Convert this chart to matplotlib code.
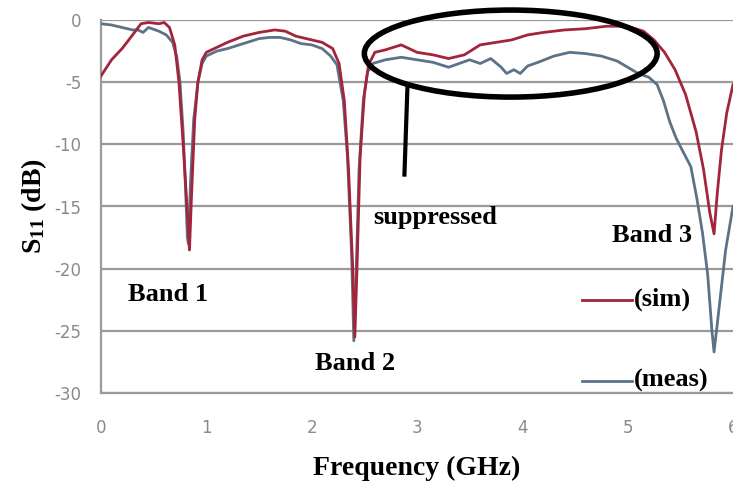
import matplotlib
matplotlib.use("Agg")
import matplotlib.pyplot as plt
from matplotlib.patches import Ellipse

plt.rcParams['mathtext.fontset'] = 'custom'
plt.rcParams['mathtext.rm'] = 'Liberation Serif:bold'
plt.rcParams['mathtext.it'] = 'Liberation Serif:bold'
plt.rcParams['mathtext.bf'] = 'Liberation Serif:bold'
plt.rcParams['axes.unicode_minus'] = False

# simulated S11 (red)
sim_freq = [0.00, 0.10, 0.20, 0.30, 0.38, 0.45, 0.55, 0.60, 0.65, 0.70, 0.74, 0.78,
            0.82, 0.84, 0.86, 0.89, 0.92, 0.96, 1.00, 1.10, 1.20, 1.35, 1.50, 1.65,
            1.75, 1.85, 2.00, 2.10, 2.20, 2.26, 2.31, 2.35, 2.39, 2.41, 2.43, 2.46,
            2.50, 2.54, 2.60, 2.70, 2.85, 3.00, 3.15, 3.30, 3.45, 3.60, 3.75, 3.90,
            4.05, 4.20, 4.40, 4.60, 4.80, 5.00, 5.15, 5.25, 5.35, 5.45, 5.55, 5.65,
            5.72, 5.78, 5.82, 5.85, 5.89, 5.94, 6.00]
sim_db = [-4.5, -3.2, -2.3, -1.2, -0.3, -0.2, -0.3, -0.2, -0.6, -2.0, -5.0, -10.0,
          -15.5, -18.5, -14.0, -8.0, -5.0, -3.2, -2.6, -2.2, -1.8, -1.3, -1.0, -0.8,
          -0.9, -1.3, -1.6, -1.8, -2.3, -3.5, -6.5, -12.0, -20.0, -25.5, -20.0, -11.0,
          -6.0, -3.6, -2.6, -2.4, -2.0, -2.6, -2.8, -3.1, -2.8, -2.0, -1.8, -1.6,
          -1.2, -1.0, -0.8, -0.7, -0.5, -0.5, -0.9, -1.6, -2.6, -4.0, -6.0, -9.0,
          -12.0, -15.5, -17.2, -14.0, -10.5, -7.5, -5.2]

# measured S11 (grey-blue)
meas_freq = [0.00, 0.10, 0.20, 0.30, 0.35, 0.40, 0.45, 0.55, 0.62, 0.68, 0.72, 0.75,
             0.78, 0.80, 0.82, 0.83, 0.85, 0.88, 0.92, 0.96, 1.00, 1.10, 1.20, 1.35,
             1.50, 1.60, 1.70, 1.80, 1.90, 2.00, 2.10, 2.18, 2.24, 2.30, 2.34, 2.38,
             2.40, 2.42, 2.45, 2.49, 2.53, 2.58, 2.70, 2.85, 3.00, 3.15, 3.30, 3.40,
             3.50, 3.60, 3.70, 3.80, 3.85, 3.92, 3.98, 4.05, 4.15, 4.30, 4.45, 4.60,
             4.75, 4.90, 5.00, 5.10, 5.20, 5.28, 5.34, 5.40, 5.46, 5.52, 5.60, 5.66,
             5.71, 5.76, 5.80, 5.82, 5.85, 5.89, 5.93, 6.00]
meas_db = [-0.3, -0.4, -0.6, -0.8, -0.8, -1.0, -0.6, -0.9, -1.2, -1.8, -3.0, -5.0,
           -9.0, -13.0, -17.5, -18.0, -13.0, -8.0, -5.0, -3.5, -2.9, -2.5, -2.3, -1.9,
           -1.5, -1.4, -1.4, -1.6, -1.9, -2.0, -2.3, -2.9, -3.6, -6.5, -11.0, -19.0,
           -25.8, -21.0, -12.0, -6.5, -4.2, -3.5, -3.2, -3.0, -3.2, -3.4, -3.8, -3.5,
           -3.2, -3.5, -3.1, -3.8, -4.3, -4.0, -4.3, -3.7, -3.4, -2.9, -2.6, -2.7,
           -2.9, -3.3, -3.8, -4.3, -4.6, -5.2, -6.5, -8.2, -9.5, -10.5, -11.8, -14.5,
           -17.1, -20.5, -25.0, -26.7, -24.5, -21.5, -18.5, -15.0]

yticks = [0, -5, -10, -15, -20, -25, -30]
xticks = [0, 1, 2, 3, 4, 5, 6]

sim_color = '#a3243b'
meas_color = '#5c7287'
grid_color = '#9a9a9a'
serif = 'Liberation Serif'

fig = plt.figure(figsize=(7.33, 4.90), dpi=100)
ax = fig.add_axes([101/733, 97/490, 632/733, 373/490])

ax.plot(meas_freq, meas_db, color=meas_color, lw=2.0, zorder=3)
ax.plot(sim_freq, sim_db, color=sim_color, lw=2.0, zorder=4)

ax.set_xlim(0, 6)
ax.set_ylim(-30, 0)
ax.set_xticks(xticks)
ax.set_yticks(yticks)
ax.yaxis.grid(True, color=grid_color, lw=1.6)
ax.set_axisbelow(True)
for s in ['top', 'right']:
    ax.spines[s].set_visible(False)
ax.spines['left'].set_color(grid_color)
ax.spines['bottom'].set_color(grid_color)
ax.spines['left'].set_linewidth(1.6)
ax.spines['bottom'].set_linewidth(1.6)
ax.tick_params(axis='both', length=0, colors='#8a8a8a', labelsize=12)
ax.tick_params(axis='x', pad=19)
ax.tick_params(axis='y', pad=14)

ax.set_xlabel('Frequency (GHz)', fontsize=20, fontweight='bold', family=serif, labelpad=13)
ax.set_ylabel('S$_{11}$ (dB)', fontsize=20, fontweight='bold', family=serif, labelpad=4)

# annotations
ax.add_patch(Ellipse((3.89, -2.7), 2.78, 7.0, fill=False, ec='black', lw=4,
                     clip_on=False, zorder=5))
ax.plot([2.91, 2.88], [-5.2, -12.6], color='black', lw=3, solid_capstyle='butt', zorder=5)

lbl = dict(fontsize=19, fontweight='bold', family=serif, va='center', ha='left')
ax.text(0.26, -22.1, 'Band 1', **lbl)
ax.text(2.03, -27.6, 'Band 2', **lbl)
ax.text(2.58, -15.9, 'suppressed', **lbl)
ax.text(4.85, -17.3, 'Band 3', **lbl)

# hand-made legend
ax.plot([4.57, 5.04], [-22.5, -22.5], color=sim_color, lw=2.0, clip_on=False)
ax.text(5.06, -22.5, '(sim)', **lbl)
ax.plot([4.57, 5.04], [-29.0, -29.0], color=meas_color, lw=2.0, clip_on=False, zorder=6)
ax.text(5.06, -29.0, '(meas)', **lbl)

fig.savefig('out.png', dpi=100)
